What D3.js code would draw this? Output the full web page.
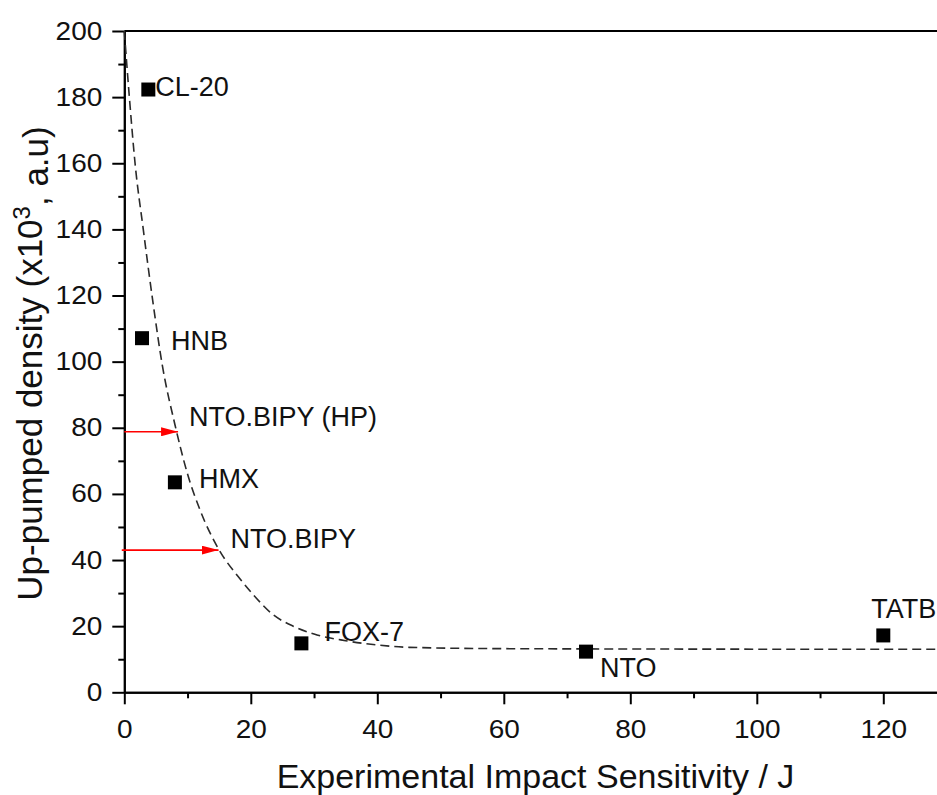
<!DOCTYPE html>
<html>
<head>
<meta charset="utf-8">
<script src="https://cdn.jsdelivr.net/npm/d3@7"></script>
<style>
  body { margin: 0; background: #fff; }
  svg { display: block; font-family: "Liberation Sans", Arial, sans-serif; }
</style>
</head>
<body>
<svg id="chart" width="937" height="795"></svg>
<script>
// compounds (impact sensitivity J, up-pumped density x10^3)
const names = ["CL-20", "HNB", "HMX", "FOX-7", "NTO", "TATB"];
const sensitivity = [3.8, 2.8, 8.0, 28, 73, 120];
const density = [182.3, 107.1, 63.5, 14.8, 12.3, 17.2];

// dashed trend line
const trendX = [0, 0.8, 1.7, 3, 4.6, 6, 8, 10, 12, 15, 18, 20.4, 23.5, 26.7, 30, 35, 40, 45, 60, 80, 130];
const trendY = [200, 180, 160, 140, 117, 99, 81, 66, 55, 43, 35, 29.5, 23.5, 20, 17.6, 15.6, 14.3, 13.6, 13.2, 13.1, 13];

// red arrows for NTO.BIPY
const arrowNames = ["NTO.BIPY (HP)", "NTO.BIPY"];
const arrowStart = [0, -0.4];
const arrowEnd = [8.5, 14.9];
const arrowY = [78.8, 43.0];

const xMajor = [0, 20, 40, 60, 80, 100, 120];
const xMinor = [10, 30, 50, 70, 90, 110, 130];
const yMajor = [0, 20, 40, 60, 80, 100, 120, 140, 160, 180, 200];
const yMinor = [10, 30, 50, 70, 90, 110, 130, 150, 170, 190];

// label offsets in px from the marker / arrow tip
const labelOff = [[7, 6], [29, 12], [24, 6], [23, -2], [14, 25], [-12, -17]];
const arrowLabelOff = [[11, -6], [12, -2]];

const svg = d3.select("#chart");
const mLeft = 124.3, mTop = 31, mBottom = 692.3;
const pxPerUnit = 6.325;
const stretch = 1.12; // tick digits look a bit wide in the source

const x = d3.scaleLinear().domain([0, 130]).range([mLeft, mLeft + 130 * pxPerUnit]);
const y = d3.scaleLinear().domain([0, 200]).range([mBottom, mTop]);

const styleAxis = g => {
  g.select(".domain").attr("stroke", "#000").attr("stroke-width", 2);
  g.selectAll(".tick line").attr("stroke", "#000").attr("stroke-width", 2);
  g.selectAll(".tick text").attr("fill", "#111").style("font-size", "25px");
};

// top and right frame lines
svg.append("line")
  .attr("x1", x(0)).attr("x2", x(130)).attr("y1", y(200)).attr("y2", y(200))
  .attr("stroke", "#000").attr("stroke-width", 2);
svg.append("line")
  .attr("x1", x(130)).attr("x2", x(130)).attr("y1", y(0)).attr("y2", y(200))
  .attr("stroke", "#000").attr("stroke-width", 2);

// minor ticks
svg.append("g")
  .attr("transform", `translate(0,${mBottom})`)
  .call(d3.axisBottom(x).tickValues(xMinor).tickSize(6).tickSizeOuter(0).tickFormat(""))
  .call(styleAxis);
svg.append("g")
  .attr("transform", `translate(${mLeft},0)`)
  .call(d3.axisLeft(y).tickValues(yMinor).tickSize(6).tickSizeOuter(0).tickFormat(""))
  .call(styleAxis);

// major ticks
svg.append("g")
  .attr("transform", `translate(0,${mBottom})`)
  .call(d3.axisBottom(x).tickValues(xMajor).tickSize(12).tickPadding(16).tickSizeOuter(0).tickFormat(d3.format("d")))
  .call(styleAxis)
  .call(g => g.selectAll(".tick text").attr("transform", `scale(${stretch},1)`));
svg.append("g")
  .attr("transform", `translate(${mLeft},0)`)
  .call(d3.axisLeft(y).tickValues(yMajor).tickSize(12).tickPadding(10).tickSizeOuter(0).tickFormat(d3.format("d")))
  .call(styleAxis)
  .call(g => g.selectAll(".tick text").attr("x", -22 / stretch).attr("transform", `scale(${stretch},1)`));

// trend line
const trend = d3.zip(trendX, trendY);
svg.append("path")
  .datum(trend)
  .attr("fill", "none")
  .attr("stroke", "#2a2a2a")
  .attr("stroke-width", 1.6)
  .attr("stroke-dasharray", "9,5")
  .attr("d", d3.line().x(d => x(d[0])).y(d => y(d[1])).curve(d3.curveMonotoneX));

// arrows
const defs = svg.append("defs");
defs.append("marker")
  .attr("id", "head")
  .attr("viewBox", "0 0 17 9")
  .attr("refX", 17).attr("refY", 4.5)
  .attr("markerUnits", "userSpaceOnUse")
  .attr("markerWidth", 17).attr("markerHeight", 9)
  .attr("orient", "auto")
  .append("path").attr("d", "M0,0L17,4.5L0,9Z").attr("fill", "#ff0000");

arrowNames.forEach((n, i) => {
  svg.append("line")
    .attr("x1", x(arrowStart[i])).attr("x2", x(arrowEnd[i]))
    .attr("y1", y(arrowY[i])).attr("y2", y(arrowY[i]))
    .attr("stroke", "#ff0000").attr("stroke-width", 1.6)
    .attr("marker-end", "url(#head)");
  svg.append("text")
    .attr("x", x(arrowEnd[i]) + arrowLabelOff[i][0])
    .attr("y", y(arrowY[i]) + arrowLabelOff[i][1])
    .attr("fill", "#111")
    .style("font-size", "27px")
    .text(n);
});

// points
const pts = names.map((n, i) => ({ name: n, sx: sensitivity[i], dy: density[i], off: labelOff[i] }));
svg.append("g").selectAll("rect")
  .data(pts)
  .join("rect")
  .attr("x", d => x(d.sx) - 7).attr("y", d => y(d.dy) - 7)
  .attr("width", 14).attr("height", 14)
  .attr("fill", "#000");

svg.append("g").selectAll("text")
  .data(pts)
  .join("text")
  .attr("x", d => x(d.sx) + d.off[0])
  .attr("y", d => y(d.dy) + d.off[1])
  .attr("fill", "#111")
  .style("font-size", "27px")
  .text(d => d.name);

// axis titles
svg.append("text")
  .attr("x", 535.5).attr("y", 788)
  .attr("text-anchor", "middle")
  .attr("fill", "#111")
  .style("font-size", "34px")
  .text("Experimental Impact Sensitivity / J");

const yt = svg.append("text")
  .attr("transform", "translate(42,363.5) rotate(-90)")
  .attr("text-anchor", "middle")
  .attr("fill", "#111")
  .style("font-size", "35px");
yt.append("tspan").text("Up-pumped density (x10");
yt.append("tspan").attr("dy", "-0.5em").style("font-size", "24px").text("3");
yt.append("tspan").attr("dy", "0.5em").text(", a.u)");
</script>
</body>
</html>
